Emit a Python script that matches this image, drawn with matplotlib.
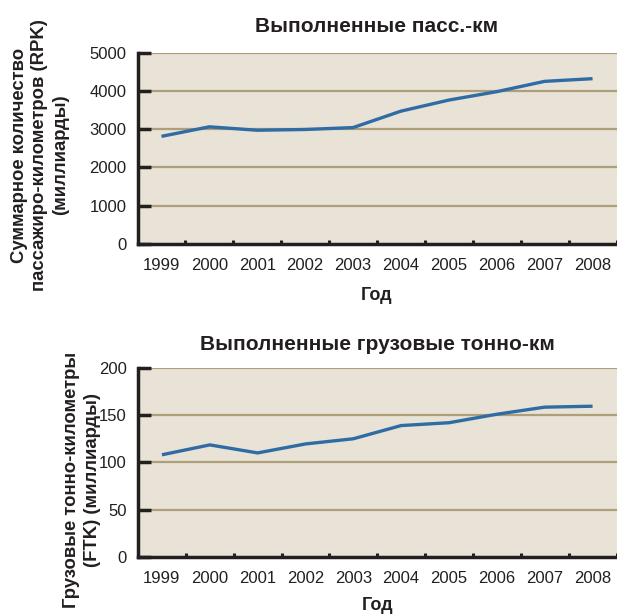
import matplotlib
matplotlib.use("Agg")
import matplotlib.pyplot as plt
import numpy as np

plt.rcParams['font.family'] = ['Liberation Sans', 'DejaVu Sans']

years = ['1999', '2000', '2001', '2002', '2003', '2004', '2005', '2006', '2007', '2008']
rpk = [2810, 3060, 2970, 2990, 3040, 3470, 3760, 3980, 4250, 4320]
ftk = [108, 118.5, 110, 119.5, 125, 139, 142, 151, 158.5, 159.5]

title_top = 'Выполненные пасс.-км'
title_bottom = 'Выполненные грузовые тонно-км'
ylabel_top = 'Суммарное количество\nпассажиро-километров (RPK)\n(миллиарды)'
ylabel_bottom = 'Грузовые тонно-километры\n(FTK) (миллиарды)'
xlabel = 'Год'
yticks_top = [0, 1000, 2000, 3000, 4000, 5000]
yticks_bottom = [0, 50, 100, 150, 200]

W, H = 617, 615
fig = plt.figure(figsize=(W / 100, H / 100), dpi=100)

BG = '#E9E3D7'
GRID = '#AC9F79'
SPINE = '#231F20'
LINE = '#2F6CA4'


def setup(ax, vals, yticks, title, ylab, ylab_x, ylab_y, title_y, xlab_y):
    x = np.arange(len(years))
    ax.set_facecolor(BG)
    ax.plot(x, vals, color=LINE, lw=2.4, solid_capstyle='butt', zorder=3)
    ax.set_xlim(-0.5, len(years) - 0.5)
    ax.set_ylim(yticks[0], yticks[-1])
    ax.set_yticks(yticks)
    ax.set_yticklabels([str(t) for t in yticks])
    ax.set_xticks(x)
    ax.set_xticklabels(years)
    ax.set_xticks(np.arange(0.5, len(years) - 0.4, 1.0), minor=True)
    for t in yticks[1:]:
        ax.axhline(t, color=GRID, lw=1.6, zorder=1)
    for s in ['top', 'right']:
        ax.spines[s].set_visible(False)
    for s in ['left', 'bottom']:
        ax.spines[s].set_color(SPINE)
        ax.spines[s].set_linewidth(2.5)
        ax.spines[s].set_zorder(4)
    ax.tick_params(axis='y', direction='in', length=9.5, width=2.5, color=SPINE,
                   labelsize=12, pad=8, labelcolor='#231F20')
    ax.tick_params(axis='x', which='major', length=0, labelsize=12, pad=10,
                   labelcolor='#231F20')
    ax.tick_params(axis='x', which='minor', direction='in', length=2.8, width=2.2,
                   color=SPINE)
    pos = ax.get_position()
    cx = (pos.x0 + pos.x1) / 2
    fig.text(cx, title_y, title, ha='center', va='baseline', fontsize=15,
             fontweight='bold', color='#231F20')
    fig.text(cx, xlab_y, xlabel, ha='center', va='center', fontsize=13,
             fontweight='bold', color='#231F20')
    fig.text(ylab_x, ylab_y, ylab, ha='center', va='center', rotation=90,
             fontsize=13.3, fontweight='bold', linespacing=1.25,
             multialignment='center', color='#231F20')


ax1 = fig.add_axes([137.5 / W, 1 - 243.7 / H, (616.5 - 137.5) / W, (243.7 - 52.7) / H])
ax2 = fig.add_axes([138 / W, 1 - 556.7 / H, (616.5 - 138) / W, (556.7 - 368) / H])

setup(ax1, rpk, yticks_top, title_top, ylabel_top, 40 / W, 1 - 155 / H,
      1 - 32 / H, 1 - 296 / H)
setup(ax2, ftk, yticks_bottom, title_bottom, ylabel_bottom, 82 / W, 1 - 480 / H,
      1 - 350 / H, 1 - 606 / H)

fig.savefig('out.png', dpi=100, facecolor='white')
